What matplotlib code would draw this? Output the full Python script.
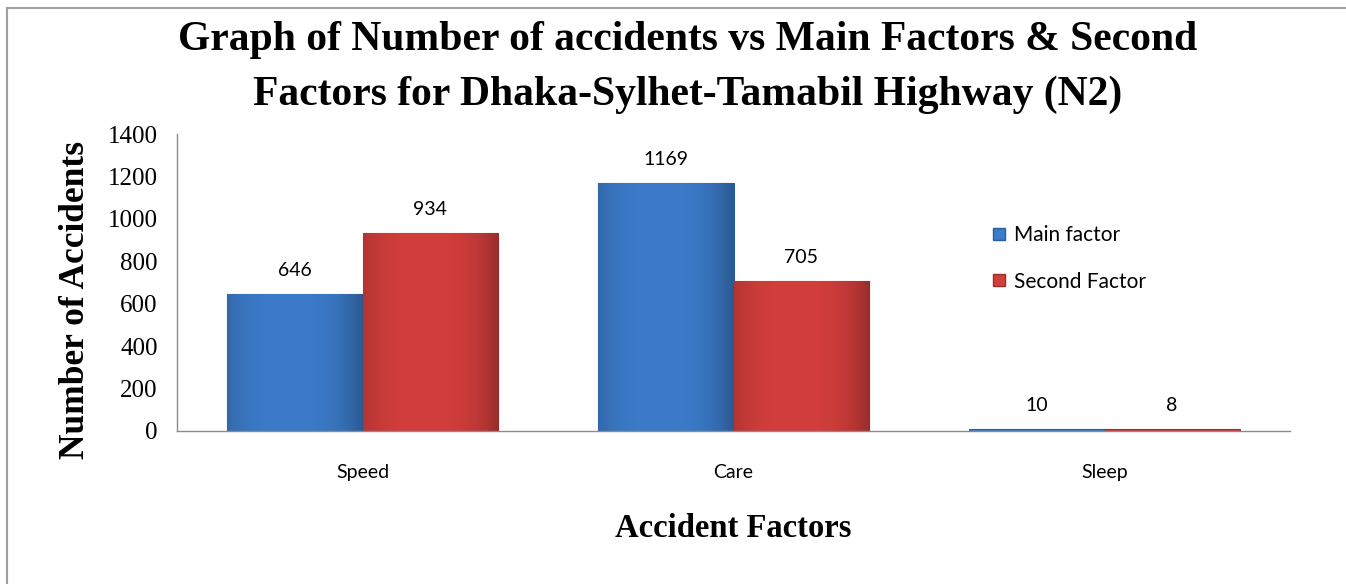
import numpy as np
import matplotlib
matplotlib.use("Agg")
import matplotlib.pyplot as plt
import matplotlib.colors as mc
from matplotlib.lines import Line2D
from matplotlib.patches import Patch

# Accident counts per factor
factors = ["Speed", "Care", "Sleep"]
main_factor = [646, 1169, 10]
second_factor = [934, 705, 8]
series_names = ["Main factor", "Second Factor"]
yticks = [0, 200, 400, 600, 800, 1000, 1200, 1400]

title_lines = ["Graph of Number of accidents vs Main Factors & Second",
               "Factors for Dhaka-Sylhet-Tamabil Highway (N2)"]

blue = "#3C7BC9"
blue_dark = "#2A5E9E"
red = "#D23E3C"
red_dark = "#9E2C2A"

serif = "Liberation Serif"
sans = "Lato"

fig = plt.figure(figsize=(13.46, 5.84), dpi=100)
ax = fig.add_axes([0.1315, 0.262, 0.8269, 0.5085])

x = np.arange(len(factors))
w = 0.364


def shaded_bars(xpos, vals, base, dark):
    bars = ax.bar(xpos, vals, width=w, color=base, edgecolor=dark,
                  linewidth=0.8, zorder=2)
    # horizontal shading across each bar for a bevelled look
    grad = np.linspace(0, 1, 256)
    prof = 1 - 0.28 * (np.abs(grad - 0.45) / 0.55) ** 3
    rgb = np.array(mc.to_rgb(base))
    img = np.clip(rgb[None, None, :] * prof[None, :, None], 0, 1)
    for b in bars:
        if b.get_height() < 30:
            continue
        x0, y0 = b.get_x(), b.get_y()
        im = ax.imshow(img, extent=(x0, x0 + b.get_width(), y0, y0 + b.get_height()),
                       aspect="auto", zorder=2.5, interpolation="bilinear")
        im.set_clip_path(b)
    return bars


b1 = shaded_bars(x - w / 2, main_factor, blue, blue_dark)
b2 = shaded_bars(x + w / 2, second_factor, red, red_dark)

ax.set_xlim(-0.5, 2.5)
ax.set_ylim(0, 1400)
ax.set_yticks(yticks)
ax.set_yticklabels([str(t) for t in yticks], fontfamily=serif, fontsize=18)
ax.set_xticks(x)
ax.set_xticklabels(factors, fontfamily=sans, fontsize=14)
ax.tick_params(axis="y", length=0, pad=14)
ax.tick_params(axis="x", length=0, pad=24)

for s in ["top", "right"]:
    ax.spines[s].set_visible(False)
for s in ["left", "bottom"]:
    ax.spines[s].set_color("#8C8C8C")
    ax.spines[s].set_linewidth(1.0)

# value labels
for bars, vals in ((b1, main_factor), (b2, second_factor)):
    for b, v in zip(bars, vals):
        ax.annotate(str(v), (b.get_x() + b.get_width() / 2, v),
                    xytext=(0, 11), textcoords="offset points",
                    ha="center", va="bottom", fontfamily=sans, fontsize=14)

ax.set_ylabel("Number of Accidents", fontfamily=serif, fontsize=25.5,
              fontweight="bold", va="center")
ax.yaxis.set_label_coords(-0.0916, 0.441)
ax.set_xlabel("Accident Factors", fontfamily=serif, fontsize=23.5,
              fontweight="bold", va="center")
ax.xaxis.set_label_coords(0.5, -0.327)

for txt, yy in zip(title_lines, (1 - 40 / 584, 1 - 95 / 584)):
    fig.text(0.511, yy, txt, fontfamily=serif, fontsize=30,
             fontweight="bold", ha="center", va="center")

handles = [Patch(facecolor=blue, edgecolor=blue_dark),
           Patch(facecolor=red, edgecolor=red_dark)]
leg = fig.legend(handles, series_names, loc="upper left",
                 bbox_to_anchor=(0.724, 0.646), frameon=False,
                 prop={"family": sans, "size": 15}, handlelength=0.55,
                 handleheight=0.55, handletextpad=0.45, labelspacing=1.25)

# outer frame lines (top and left)
fig.add_artist(Line2D([7 / 1346, 1.0], [1 - 8 / 584, 1 - 8 / 584],
                      transform=fig.transFigure, color="#A0A0A0", lw=1.5))
fig.add_artist(Line2D([7 / 1346, 7 / 1346], [0, 1 - 8 / 584],
                      transform=fig.transFigure, color="#A0A0A0", lw=1.5))

fig.savefig("out.png", dpi=100)
